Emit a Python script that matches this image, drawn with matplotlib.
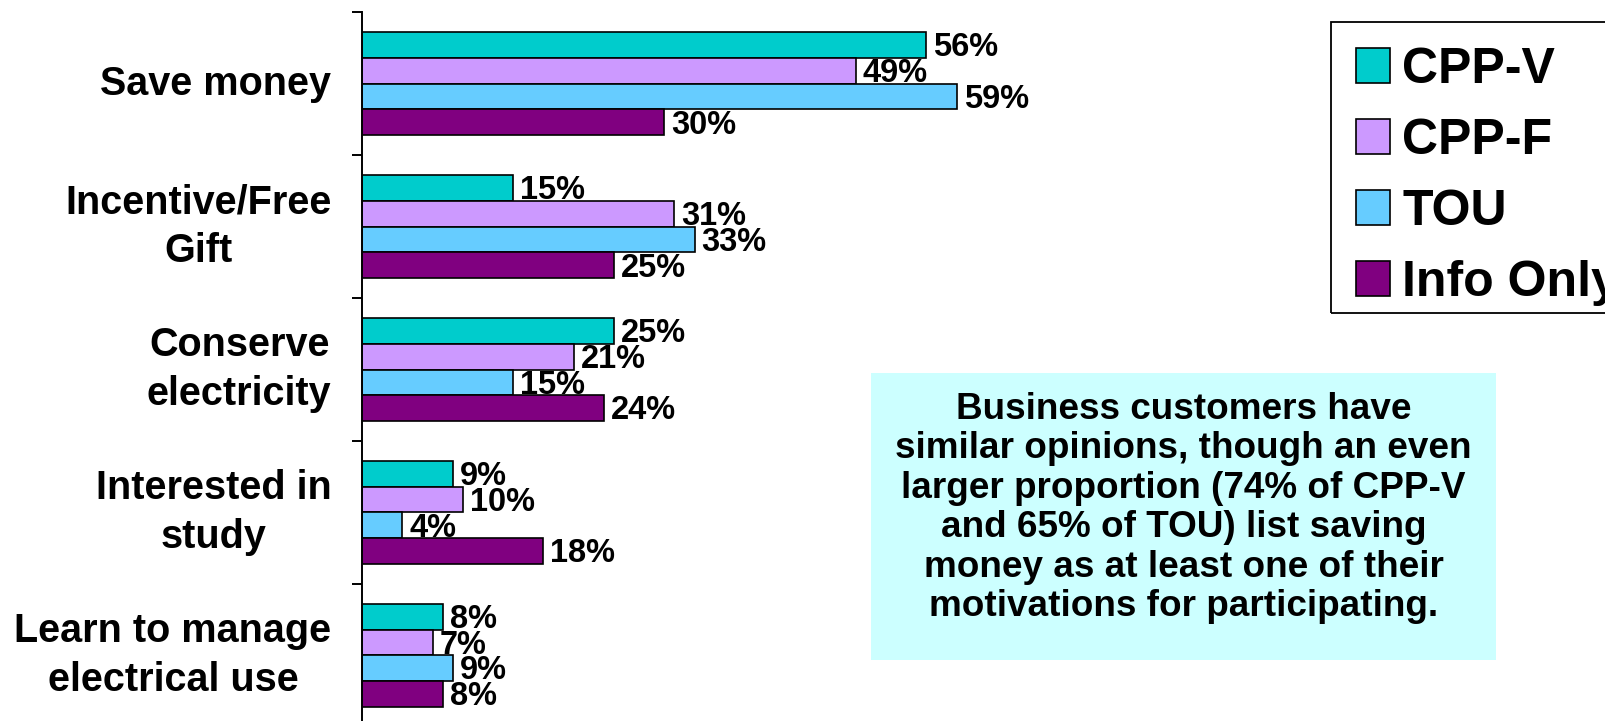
import matplotlib.pyplot as plt
from matplotlib.patches import Rectangle
import numpy as np

plt.rcParams['font.family'] = ['Liberation Sans', 'DejaVu Sans']
plt.rcParams['font.weight'] = 'bold'

reasons = ['Save money', 'Incentive/Free\nGift', 'Conserve\nelectricity',
           'Interested in\nstudy', 'Learn to manage\nelectrical use']
groups = ['CPP-V', 'CPP-F', 'TOU', 'Info Only']
cpp_v = [56, 15, 25, 9, 8]
cpp_f = [49, 31, 21, 10, 7]
tou = [59, 33, 15, 4, 9]
info_only = [30, 25, 24, 18, 8]
colors = ['#00CCCC', '#CC99FF', '#66CCFF', '#800080']

note = ('Business customers have\nsimilar opinions, though an even\n'
        'larger proportion (74% of CPP-V\nand 65% of TOU) list saving\n'
        'money as at least one of their\nmotivations for participating.')

W, H = 1605, 721
fig = plt.figure(figsize=(W / 100, H / 100), dpi=100)
# axes box in pixels: left spine at x=362, top at y=12, one category = 143 px
left, top, width, bottom = 362, 12.3, 1008, 726.8
ax = fig.add_axes([left / W, 1 - bottom / H, width / W, (bottom - top) / H])

y = np.arange(len(reasons))
h = 0.18
series = [cpp_v, cpp_f, tou, info_only]
for i, (vals, name, c) in enumerate(zip(series, groups, colors)):
    pos = y + (i - 1.5) * h
    ax.barh(pos, vals, height=h, color=c, edgecolor='black', linewidth=1.2,
            label=name, zorder=2)
    for p, v in zip(pos, vals):
        ax.annotate(f'{v}%', (v, p), xytext=(5, -2), textcoords='offset points',
                    ha='left', va='center', fontsize=23.5, fontweight='bold',
                    zorder=3)

ax.set_xlim(0, 100)
ax.set_ylim(len(reasons) - 0.5, -0.5)
ax.set_yticks(y)
ax.set_yticklabels(reasons, fontsize=28.5, fontweight='bold', ha='right',
                   va='center', multialignment='center', linespacing=1.36)
ax.set_yticks(np.arange(-0.5, len(reasons)), minor=True)
ax.tick_params(axis='y', which='major', length=0, pad=22)
ax.tick_params(axis='y', which='minor', length=7, width=1.4, direction='out')
ax.set_xticks([])
for s in ['top', 'right', 'bottom']:
    ax.spines[s].set_visible(False)
ax.spines['left'].set_linewidth(1.4)

handles, labels = ax.get_legend_handles_labels()
leg = fig.legend(handles, labels, loc='upper left',
                 bbox_to_anchor=(1332 / W, 1 - 23 / H), fontsize=36,
                 handlelength=0.68, handleheight=0.68, handletextpad=0.25,
                 labelspacing=0.5, borderpad=0.48, borderaxespad=0,
                 frameon=False)
for t in leg.get_texts():
    t.set_fontweight('bold')
# legend frame runs off the right edge
fig.patches.append(Rectangle((1331 / W, 1 - 313 / H), 300 / W, 290.5 / H,
                             transform=fig.transFigure, facecolor='none',
                             edgecolor='black', linewidth=1.3))

# note panel
fig.patches.append(Rectangle((871 / W, 1 - 660 / H), 625 / W, 287 / H,
                             transform=fig.transFigure, facecolor='#CCFFFF',
                             edgecolor='none', zorder=0))
fig.text(1183.5 / W, 1 - 508 / H, note, ha='center', va='center',
         fontsize=26.6, fontweight='bold', linespacing=1.17)

fig.savefig('out.png', dpi=100)
